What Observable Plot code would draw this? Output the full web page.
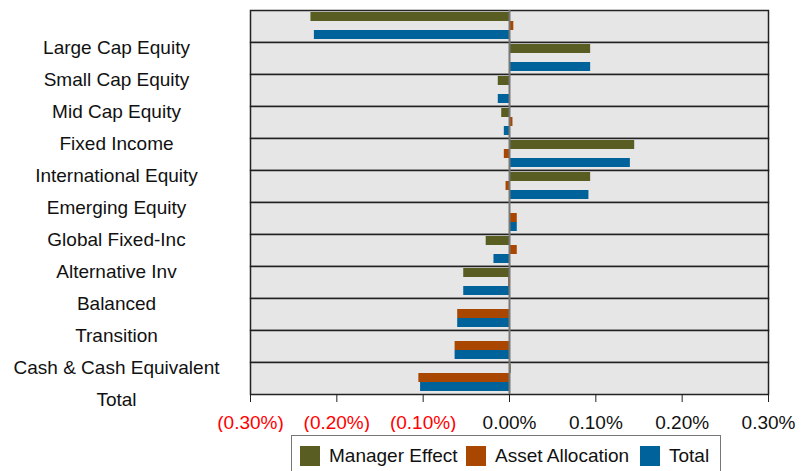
<!DOCTYPE html>
<html>
<head>
<meta charset="utf-8">
<script src="https://cdn.jsdelivr.net/npm/d3@7"></script>
<script src="https://cdn.jsdelivr.net/npm/@observablehq/plot@0.6"></script>
<style>
  body { margin: 0; background: #fff; font-family: "Liberation Sans", Arial, sans-serif; }
  #wrap { position: relative; width: 810px; height: 471px; overflow: hidden; }
  #legend { position: absolute; left: 291px; top: 435px; width: 430px; height: 44px;
    border: 1px solid #777; box-sizing: border-box; font-size: 19px; color: #111; }
  .item { position: absolute; top: 9px; display: flex; align-items: center; }
  .sw { width: 20px; height: 20px; margin-right: 9px; }
</style>
</head>
<body>
<div id="wrap">
  <div id="chart"></div>
  <div id="legend"></div>
</div>
<script>
const categories = ["Large Cap Equity", "Small Cap Equity", "Mid Cap Equity", "Fixed Income",
  "International Equity", "Emerging Equity", "Global Fixed-Inc", "Alternative Inv",
  "Balanced", "Transition", "Cash & Cash Equivalent", "Total"];
const series = ["Manager Effect", "Asset Allocation", "Total"];
const colors = ["#5a5d22", "#a94700", "#00629b"];
// values in percent
const managerEffect   = [-0.230, 0.094, -0.013, -0.009, 0.145, 0.094, 0.001, -0.027, -0.053, 0.000, 0.000, 0.002];
const assetAllocation = [0.005, 0.001, 0.000, 0.004, -0.006, -0.004, 0.009, 0.009, -0.001, -0.060, -0.063, -0.105];
const totalEffect     = [-0.226, 0.094, -0.013, -0.006, 0.140, 0.092, 0.009, -0.018, -0.053, -0.060, -0.063, -0.103];
const xTicks = [-0.3, -0.2, -0.1, 0, 0.1, 0.2, 0.3];

const seriesValues = [managerEffect, assetAllocation, totalEffect];
const rows = [];
categories.forEach((c, i) => series.forEach((s, j) => rows.push({category: c, series: s, value: seriesValues[j][i]})));

const fmt = d => d < 0 ? `(${(-d).toFixed(2)}%)` : `${d.toFixed(2)}%`;

const chart = Plot.plot({
  width: 810,
  height: 432,
  marginLeft: 250,
  marginRight: 42,
  marginTop: 10,
  marginBottom: 38,
  style: {fontFamily: "Liberation Sans, Arial, sans-serif", fontSize: "19px", color: "#111", background: "#fff"},
  x: {domain: [-0.3, 0.3], label: null},
  fy: {domain: categories, padding: 0, axis: null},
  y: {domain: series, padding: 0, insetTop: 2, insetBottom: 3, axis: null},
  color: {domain: series, range: colors},
  marks: [
    Plot.frame({fill: "#e6e6e6", stroke: "#222", strokeWidth: 1.5}),
    Plot.barX(rows, {fy: "category", y: "series", x: "value", fill: "series"}),
    Plot.ruleX([0], {stroke: "#777", strokeWidth: 2}),
    Plot.text(categories, {fy: d => d, text: d => d, frameAnchor: "left", dx: -134, dy: 21,
      textAnchor: "middle", fill: "#111"}),
    Plot.axisX(xTicks.filter(d => d < 0), {tickFormat: fmt, tickSize: 8, tickPadding: 13, fill: "#f00", stroke: "#222", label: null}),
    Plot.axisX(xTicks.filter(d => d >= 0), {tickFormat: fmt, tickSize: 8, tickPadding: 13, fill: "#111", stroke: "#222", label: null})
  ]
});
document.getElementById("chart").appendChild(chart);

const legend = document.getElementById("legend");
const lefts = [8, 174, 348];
series.forEach((s, i) => {
  const it = document.createElement("div");
  it.className = "item";
  it.style.left = lefts[i] + "px";
  it.innerHTML = `<span class="sw" style="background:${colors[i]}"></span><span>${s}</span>`;
  legend.appendChild(it);
});
</script>
</body>
</html>
